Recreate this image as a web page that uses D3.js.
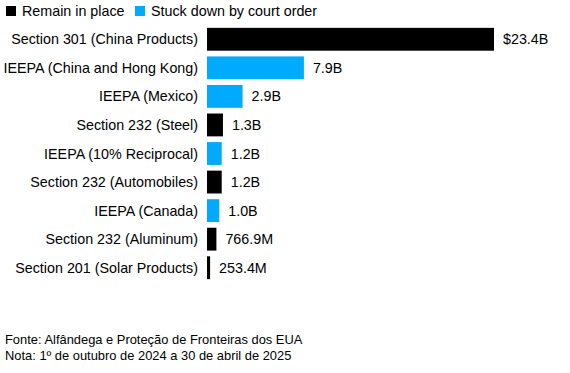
<!DOCTYPE html>
<html>
<head>
  <script src="https://cdnjs.cloudflare.com/ajax/libs/d3/7.8.5/d3.min.js"></script>
  <style>
    body { margin: 0; background: #fff; }
    text { font-family: "Liberation Sans", Arial, sans-serif; fill: #000; }
  </style>
</head>
<body>
  <svg width="570" height="373"></svg>
<script>
// tariff revenue by authority, billions of dollars
var categories = ["Section 301 (China Products)", "IEEPA (China and Hong Kong)", "IEEPA (Mexico)",
  "Section 232 (Steel)", "IEEPA (10% Reciprocal)", "Section 232 (Automobiles)", "IEEPA (Canada)",
  "Section 232 (Aluminum)", "Section 201 (Solar Products)"];
var values = [23.4, 7.9, 2.9, 1.3, 1.2, 1.2, 1.0, 0.7669, 0.2534];
var valueLabels = ["$23.4B", "7.9B", "2.9B", "1.3B", "1.2B", "1.2B", "1.0B", "766.9M", "253.4M"];
var barStatus = ["remain", "struck", "struck", "remain", "struck", "remain", "struck", "remain", "remain"];
var legendLabels = ["Remain in place", "Stuck down by court order"];

var colors = { remain: "#000000", struck: "#00aaff" };

var svg = d3.select("svg");

var x = d3.scaleLinear()
    .domain([0, 23.4])
    .range([207, 494]);

var y = d3.scaleBand()
    .domain(categories)
    .range([25, 282])
    .paddingInner(0.2)
    .paddingOuter(0.1);

// legend
var legend = svg.append("g");
var legendX = [6, 135];
legendLabels.forEach(function(l, i) {
  legend.append("rect")
      .attr("x", legendX[i])
      .attr("y", 6)
      .attr("width", 10)
      .attr("height", 10)
      .attr("fill", i === 0 ? colors.remain : colors.struck);
  legend.append("text")
      .attr("x", legendX[i] + 16)
      .attr("y", 16)
      .attr("font-size", 14.3)
      .text(l);
});

// bars
svg.append("g").selectAll("rect")
    .data(values)
  .enter().append("rect")
    .attr("x", x(0))
    .attr("y", function(d, i) { return y(categories[i]); })
    .attr("width", function(d) { return x(d) - x(0); })
    .attr("height", y.bandwidth())
    .attr("fill", function(d, i) { return colors[barStatus[i]]; });

// category labels
svg.append("g").selectAll("text")
    .data(categories)
  .enter().append("text")
    .attr("x", 198)
    .attr("y", function(d) { return y(d) + y.bandwidth() / 2; })
    .attr("dy", "0.35em")
    .attr("text-anchor", "end")
    .attr("font-size", 14.3)
    .text(function(d) { return d; });

// value labels
svg.append("g").selectAll("text")
    .data(values)
  .enter().append("text")
    .attr("x", function(d) { return x(d) + 9; })
    .attr("y", function(d, i) { return y(categories[i]) + y.bandwidth() / 2; })
    .attr("dy", "0.35em")
    .attr("font-size", 14.3)
    .text(function(d, i) { return valueLabels[i]; });

// footer
svg.append("text")
    .attr("x", 5).attr("y", 344)
    .attr("font-size", 12.9)
    .text("Fonte: Alfândega e Proteção de Fronteiras dos EUA");
svg.append("text")
    .attr("x", 5).attr("y", 360)
    .attr("font-size", 12.9)
    .text("Nota: 1º de outubro de 2024 a 30 de abril de 2025");
</script>
</body>
</html>
